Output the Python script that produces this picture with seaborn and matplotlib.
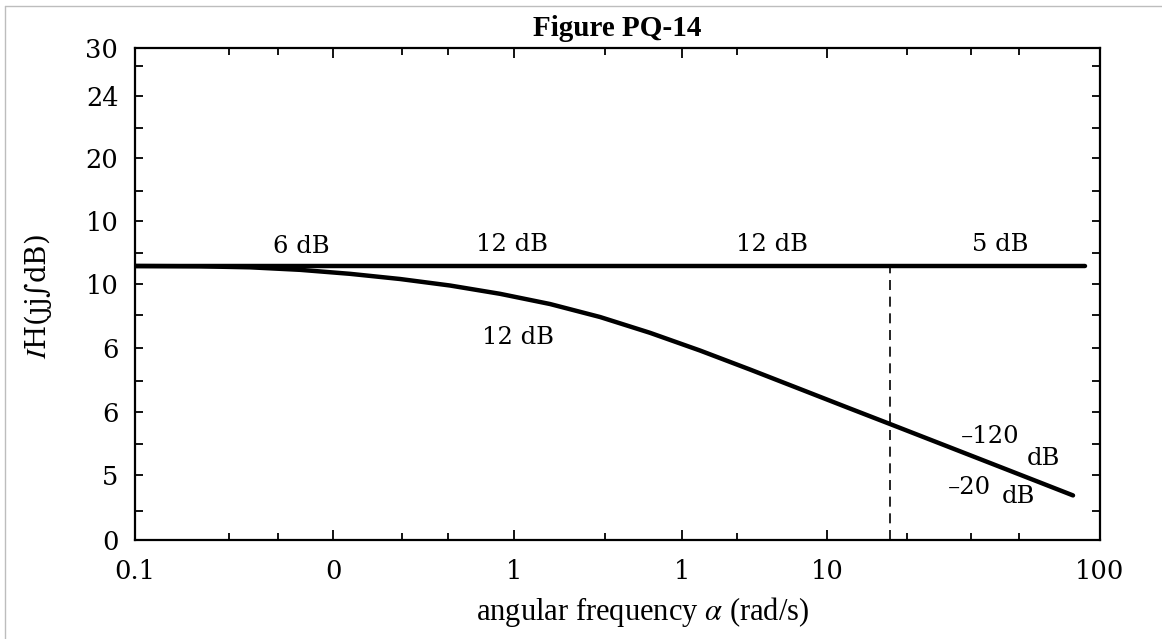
import pandas as pd
import seaborn as sns
import matplotlib.pyplot as plt
from matplotlib.lines import Line2D

# curva de magnitud
freq = [0.1, 0.1593, 0.2278, 0.3258, 0.4661, 0.6665, 0.9534, 1.364, 1.951, 2.790,
        3.990, 5.708, 8.165, 11.68, 16.70, 22.24, 34.17, 48.88, 65.09, 82.43]
mag = [4.455, 4.450, 4.434, 4.393, 4.328, 4.244, 4.138, 4.003, 3.837, 3.626,
       3.369, 3.081, 2.772, 2.455, 2.138, 1.886, 1.506, 1.189, 0.935, 0.725]

# asintota horizontal
flat_freq = [0.1, 89.7]
flat_mag = [4.455, 4.455]

# frecuencia de corte (linea discontinua)
corte = 22.2

xticks_major = [0.1, 0.413, 1.51, 5.01, 14.2, 100]
xtick_labels = ['0.1', '0', '1', '1', '10', '100']
xticks_minor = [0.196, 0.278, 0.676, 0.940, 2.89, 7.44, 25.1, 39.7, 56.0]

yticks_major = [0, 1.057, 2.08, 3.12, 4.16, 5.19, 6.21, 7.22, 8.0]
ytick_labels = ['0', '5', '6', '6', '10', '10', '20', '24', '30']
yticks_minor = [0.47, 1.56, 2.59, 3.66, 4.67, 5.67, 6.70, 7.71]

etiquetas = ['6 dB', '12 dB', '12 dB', '5 dB', '12 dB']
etiq_x = [0.330, 1.49, 9.56, 48.9, 1.55]
etiq_y = [4.78, 4.80, 4.80, 4.80, 3.30]

pendientes = ['\u2013120', '\u201320']
pend_x = [45.5, 39.4]
pend_y = [1.675, 0.846]
sub_x = [66.5, 55.6]
sub_y = [1.33, 0.70]

sns.set_theme(style='ticks')
plt.rcParams['font.family'] = ['DejaVu Serif', 'DejaVu Sans']
plt.rcParams['mathtext.fontset'] = 'stix'
plt.rcParams['text.color'] = 'black'
plt.rcParams['axes.labelcolor'] = 'black'

df_curva = pd.DataFrame({'w': freq, 'H': mag})
df_flat = pd.DataFrame({'w': flat_freq, 'H': flat_mag})

fig = plt.figure(figsize=(11.62, 6.39), dpi=100)
ax = fig.add_axes([135 / 1162, 99 / 639, 965 / 1162, 492 / 639])
ax.set_xscale('log')

sns.lineplot(data=df_flat, x='w', y='H', ax=ax, color='black', linewidth=3.2,
             solid_capstyle='round')
sns.lineplot(data=df_curva, x='w', y='H', ax=ax, color='black', linewidth=3.2,
             solid_capstyle='round', solid_joinstyle='round')
ax.vlines(corte, 0, flat_mag[0], colors='black', linestyles=(0, (6, 4)), linewidth=1.2)

for t, x, y in zip(etiquetas, etiq_x, etiq_y):
    ax.text(x, y, t, ha='center', va='center', fontsize=17.5, color='black')
for t, x, y in zip(pendientes, pend_x, pend_y):
    ax.text(x, y, t, ha='center', va='center', fontsize=17.5, color='black')
for x, y in zip(sub_x, sub_y):
    ax.text(x, y, 'dB', ha='center', va='center', fontsize=17.5, color='black')

ax.set_xlim(0.1, 100)
ax.set_ylim(0, 8)
ax.set_xticks(xticks_major)
ax.set_xticklabels(xtick_labels)
ax.set_xticks(xticks_minor, minor=True)
ax.set_yticks(yticks_major)
ax.set_yticklabels(ytick_labels)
ax.set_yticks(yticks_minor, minor=True)

ax.tick_params(axis='both', which='both', direction='in', top=True, right=True,
               width=1.3, color='black', labelsize=18.5, labelcolor='black')
ax.tick_params(axis='x', which='major', length=7, pad=14)
ax.tick_params(axis='x', which='minor', length=5)
ax.tick_params(axis='y', which='both', length=6, pad=12)
for s in ax.spines.values():
    s.set_linewidth(1.6)
    s.set_color('black')

ax.set_title('Figure PQ-14', family='Liberation Serif', fontweight='bold',
             fontsize=21, pad=9)
ax.set_xlabel('angular frequency $\\alpha$ (rad/s)', family='Liberation Serif', fontsize=22)
ax.xaxis.label.set_va('center')
ax.xaxis.set_label_coords(0.526, -0.146)
ax.set_ylabel('$I$H(\u0237j\u222bdB)', fontsize=20)
ax.yaxis.label.set_va('center')
ax.yaxis.set_label_coords(-0.1005, 0.494)

# marco gris de la imagen
fig.add_artist(Line2D([5 / 1162, 1], [633 / 639, 633 / 639], color='#bdbdbd', lw=1))
fig.add_artist(Line2D([5 / 1162, 5 / 1162], [0, 633 / 639], color='#bdbdbd', lw=1))

fig.savefig('out.png', dpi=100)
